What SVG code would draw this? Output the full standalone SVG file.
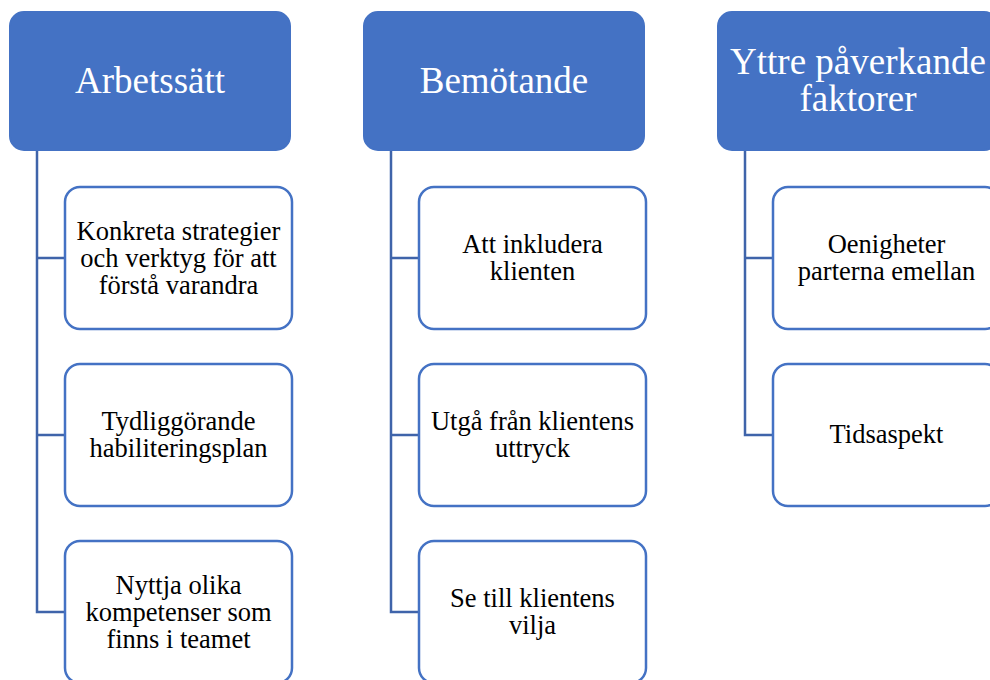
<svg xmlns="http://www.w3.org/2000/svg" width="990" height="680" viewBox="0 0 990 680">
<style>
.hdr{fill:#4472C4;stroke:#4472C4;stroke-width:2}
.hdr-t{font-family:"Liberation Serif","Times New Roman",serif;font-size:37px;fill:#FFFFFF;text-anchor:middle}
.child{fill:#FFFFFF;stroke:#4472C4;stroke-width:2.5}
.child-t{font-family:"Liberation Serif","Times New Roman",serif;font-size:26.5px;fill:#000000;text-anchor:middle}
.conn{fill:none;stroke:#3F64AA;stroke-width:2.5}
</style>
<rect width="990" height="680" fill="#FFFFFF"/>
<g id="connectors">
<path class="conn" d="M37,151 V612 H65 M37,258 H65 M37,435 H65"/>
<path class="conn" d="M391,151 V612 H419 M391,258 H419 M391,435 H419"/>
<path class="conn" d="M745,151 V435 H773 M745,258 H773"/>
</g>
<g id="h1"><rect class="hdr" x="10" y="12" width="280" height="138" rx="14"/><text class="hdr-t" x="150" y="93">Arbetssätt</text></g>
<g id="h2"><rect class="hdr" x="364" y="12" width="280" height="138" rx="14"/><text class="hdr-t" x="504" y="93">Bemötande</text></g>
<g id="h3"><rect class="hdr" x="718" y="12" width="280" height="138" rx="14"/><text class="hdr-t" x="858" y="74">Yttre påverkande</text><text class="hdr-t" x="858" y="111">faktorer</text></g>
<g id="c1a"><rect class="child" x="65" y="187" width="227" height="142" rx="15"/><text class="child-t" x="178.5" y="240">Konkreta strategier</text><text class="child-t" x="178.5" y="267">och verktyg för att</text><text class="child-t" x="178.5" y="294">förstå varandra</text></g>
<g id="c1b"><rect class="child" x="65" y="364" width="227" height="142" rx="15"/><text class="child-t" x="178.5" y="430">Tydliggörande</text><text class="child-t" x="178.5" y="457">habiliteringsplan</text></g>
<g id="c1c"><rect class="child" x="65" y="541" width="227" height="142" rx="15"/><text class="child-t" x="178.5" y="594">Nyttja olika</text><text class="child-t" x="178.5" y="621">kompetenser som</text><text class="child-t" x="178.5" y="648">finns i teamet</text></g>
<g id="c2a"><rect class="child" x="419" y="187" width="227" height="142" rx="15"/><text class="child-t" x="532.5" y="253">Att inkludera</text><text class="child-t" x="532.5" y="280">klienten</text></g>
<g id="c2b"><rect class="child" x="419" y="364" width="227" height="142" rx="15"/><text class="child-t" x="532.5" y="430">Utgå från klientens</text><text class="child-t" x="532.5" y="457">uttryck</text></g>
<g id="c2c"><rect class="child" x="419" y="541" width="227" height="142" rx="15"/><text class="child-t" x="532.5" y="607">Se till klientens</text><text class="child-t" x="532.5" y="634">vilja</text></g>
<g id="c3a"><rect class="child" x="773" y="187" width="227" height="142" rx="15"/><text class="child-t" x="886.5" y="253">Oenigheter</text><text class="child-t" x="886.5" y="280">parterna emellan</text></g>
<g id="c3b"><rect class="child" x="773" y="364" width="227" height="142" rx="15"/><text class="child-t" x="886.5" y="443">Tidsaspekt</text></g>
</svg>
